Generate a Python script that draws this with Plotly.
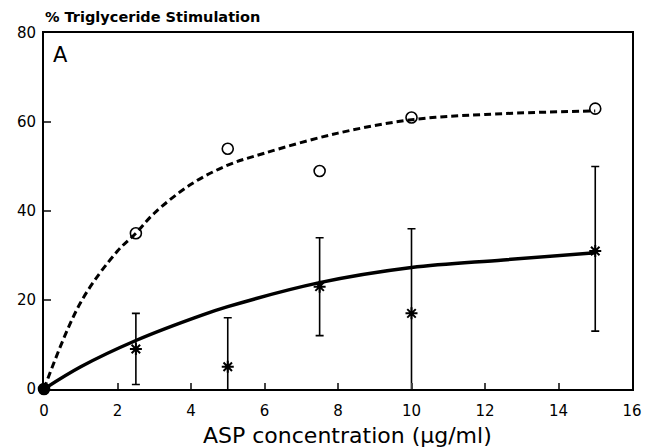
import plotly.graph_objects as go

# Measured data
conc = [0, 2.5, 5, 7.5, 10, 15]
circles = [0, 35, 54, 49, 61, 63]
stars = [0, 9, 5, 23, 17, 31]
star_err_plus = [0, 8, 11, 11, 19, 19]
star_err_minus = [0, 8, 11, 11, 19, 18]

# Fitted curves
dash_x = [0, 1, 2, 2.5, 3, 4, 5, 6, 8, 10, 12, 15]
dash_y = [0, 19.5, 31, 35, 39.5, 46, 50.3, 53, 57.5, 60.5, 61.7, 62.5]
solid_x = [0, 1, 2.5, 4.3, 5, 7.5, 10, 12.5, 15]
solid_y = [0, 5, 10.9, 16.6, 18.5, 23.9, 27.3, 29, 30.6]

x_ticks = [0, 2, 4, 6, 8, 10, 12, 14, 16]
y_ticks = [0, 20, 40, 60, 80]

fig = go.Figure()
fig.add_trace(go.Scatter(x=dash_x, y=dash_y, mode="lines",
                         line=dict(color="black", width=3, dash="7px,4px", shape="spline"),
                         hoverinfo="skip"))
fig.add_trace(go.Scatter(x=solid_x, y=solid_y, mode="lines",
                         line=dict(color="black", width=3.5, shape="spline"),
                         hoverinfo="skip"))
fig.add_trace(go.Scatter(x=conc, y=circles, mode="markers",
                         marker=dict(symbol="circle-open", size=11, color="black",
                                     line=dict(width=1.6, color="black")),
                         cliponaxis=False))
fig.add_trace(go.Scatter(x=conc, y=stars, mode="markers",
                         marker=dict(symbol="asterisk-open", size=10, color="black",
                                     line=dict(width=2, color="black")),
                         error_y=dict(type="data", symmetric=False, array=star_err_plus,
                                      arrayminus=star_err_minus, color="black",
                                      thickness=1.6, width=4),
                         cliponaxis=True))
fig.add_trace(go.Scatter(x=[conc[0]], y=[stars[0]], mode="markers",
                         marker=dict(symbol="circle", size=11, color="black"),
                         cliponaxis=False))

font = "DejaVu Sans, Verdana, sans-serif"
fig.update_layout(
    width=643, height=439,
    margin=dict(l=31, r=9, t=25, b=58),
    paper_bgcolor="white", plot_bgcolor="white",
    showlegend=False,
    font=dict(family=font, color="black", size=15),
    xaxis=dict(range=[0, 16], tickvals=x_ticks, ticks="inside", ticklen=6, tickwidth=1.5,
               showline=True, linewidth=2, linecolor="black", mirror=True,
               showgrid=False, zeroline=False, ticklabelstandoff=7,
               tickfont=dict(size=15)),
    yaxis=dict(range=[0, 80], tickvals=y_ticks, ticks="inside", ticklen=7, tickwidth=1.5,
               showline=True, linewidth=2, linecolor="black", mirror=True,
               showgrid=False, zeroline=False, ticklabelstandoff=3,
               tickfont=dict(size=15)),
    annotations=[
        dict(text="<b>% Triglyceride Stimulation</b>", xref="paper", yref="paper",
             x=-0.002, y=1.045, xanchor="left", yanchor="middle", showarrow=False,
             font=dict(size=14.5)),
        dict(text="A", xref="paper", yref="paper", x=0.028, y=0.938,
             xanchor="center", yanchor="middle", showarrow=False, font=dict(size=21)),
        dict(text="ASP concentration (μg/ml)", xref="paper", yref="paper",
             x=0.516, y=-0.132, xanchor="center", yanchor="middle", showarrow=False,
             font=dict(size=22)),
    ],
)

fig.write_html("out.html")
